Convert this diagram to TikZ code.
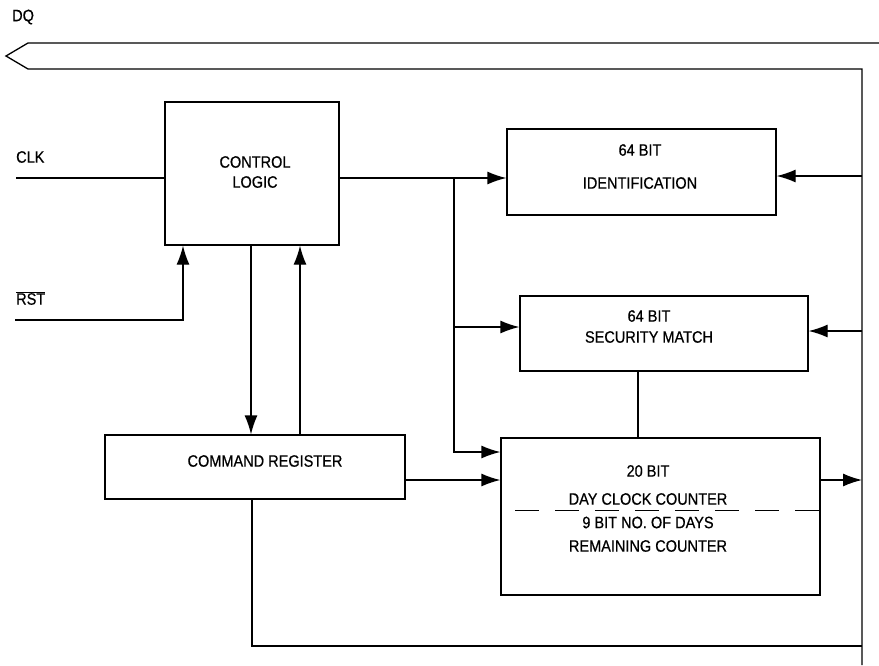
\documentclass[tikz,border=0pt]{standalone}
\usepackage{fontspec}
\setmainfont{Liberation Sans}
\newfontfamily\plotfont[FakeStretch=0.88, FakeBold=0.6]{Liberation Sans}
\usetikzlibrary{arrows.meta,positioning}

\begin{document}
\begin{tikzpicture}[x=1pt, y=-1pt,
        box/.style={draw, line width=1.3pt, inner sep=0pt},
        txt/.style={align=center, font=\plotfont\fontsize{16.5}{20}\selectfont, inner sep=0pt},
        wire/.style={line width=1.3pt},
        arr/.style={wire, -{Latex[length=19pt, width=13pt]}}]
  \useasboundingbox (0,0) rectangle (879,665);
  % blocks
  \node[box, minimum width=174pt, minimum height=143pt] (cl) at (252,173.5) {};
  \node[box, minimum width=269pt, minimum height=86pt] (id) at (641.5,172) {};
  \node[box, minimum width=288pt, minimum height=75pt] (sm) at (664,333.5) {};
  \node[box, minimum width=300pt, minimum height=64pt] (cr) at (255,467) {};
  \node[box, minimum width=319pt, minimum height=157pt] (dc) at (660.5,516.5) {};
  \node[txt] (clT) at (255,172) {CONTROL\\LOGIC};
  \node[txt] (idT) at (640,166.5) {64 BIT\\[13pt]IDENTIFICATION};
  \node[txt] (smT) at (649,326.5) {64 BIT\\[1pt]SECURITY MATCH};
  \node[txt] (crT) at (265,461) {COMMAND REGISTER};
  \node[txt, font=\plotfont\fontsize{16.5}{23.5}\selectfont] (dcT) at (648,508.5)
    {20 BIT\\[4.5pt]DAY CLOCK COUNTER\\9 BIT NO. OF DAYS\\REMAINING COUNTER};
  \coordinate (dl) at (515,510);
  \draw[line width=0.9pt, dash pattern=on 24pt off 16pt] (dl) -- (dl -| dc.east);
  % pins
  \node[txt, anchor=west] (dq) at (12,17) {DQ};
  \node[txt, anchor=west] (clkT) at (16,157) {CLK};
  \node[txt, anchor=west] (rstT) at (16,298) {$\overline{\hbox{RST}}$};
  \coordinate (clkin) at (16,178);
  \coordinate (rstin) at (15,320);
  \draw[wire] (clkin) -- (clkin -| cl.west);
  \draw[arr] (rstin) -| ([xshift=-69pt]cl.south);
  \draw[arr] ([xshift=-1pt]cl.south) -- ([xshift=-1pt]cl.south |- cr.north);
  \draw[arr] ([xshift=48pt]cl.south |- cr.north) -- ([xshift=48pt]cl.south);
  % fan-out from control logic
  \coordinate (j1) at (454,178);
  \coordinate (j2) at (454,327);
  \coordinate (j3) at (454,452);
  \draw[wire] (cl.east |- j1) -- (j1);
  \draw[arr] (j1) -- (j1 -| id.west);
  \draw[arr] (j2) -- (j2 -| sm.west);
  \draw[arr] (j1) |- (j3 -| dc.west);
  \draw[arr] ([yshift=-13pt]cr.east) -- ([yshift=-13pt]cr.east -| dc.west);
  \draw[wire] ([xshift=-26pt]sm.south) -- ([xshift=-26pt]sm.south |- dc.north);
  % DQ bus
  \coordinate (dqR) at (879,43);
  \coordinate (dqtip) at (6,56);
  \coordinate (busT) at (862,69);
  \coordinate (busB) at (862,665);
  \draw[wire] (dqR) -- (28,43) -- (dqtip) -- (28,69) -- (busT) -- (busB);
  \coordinate (b1) at (862,176);
  \coordinate (b2) at (862,331);
  \coordinate (b4) at (862,646);
  \draw[arr] (b1) -- (b1 -| id.east);
  \draw[arr] (b2) -- (b2 -| sm.east);
  \draw[arr] ([yshift=36.5pt]dc.east) -- ([yshift=36.5pt]dc.east -| busT);
  \draw[wire] ([xshift=-3pt]cr.south) |- (b4);
\end{tikzpicture}
\end{document}
